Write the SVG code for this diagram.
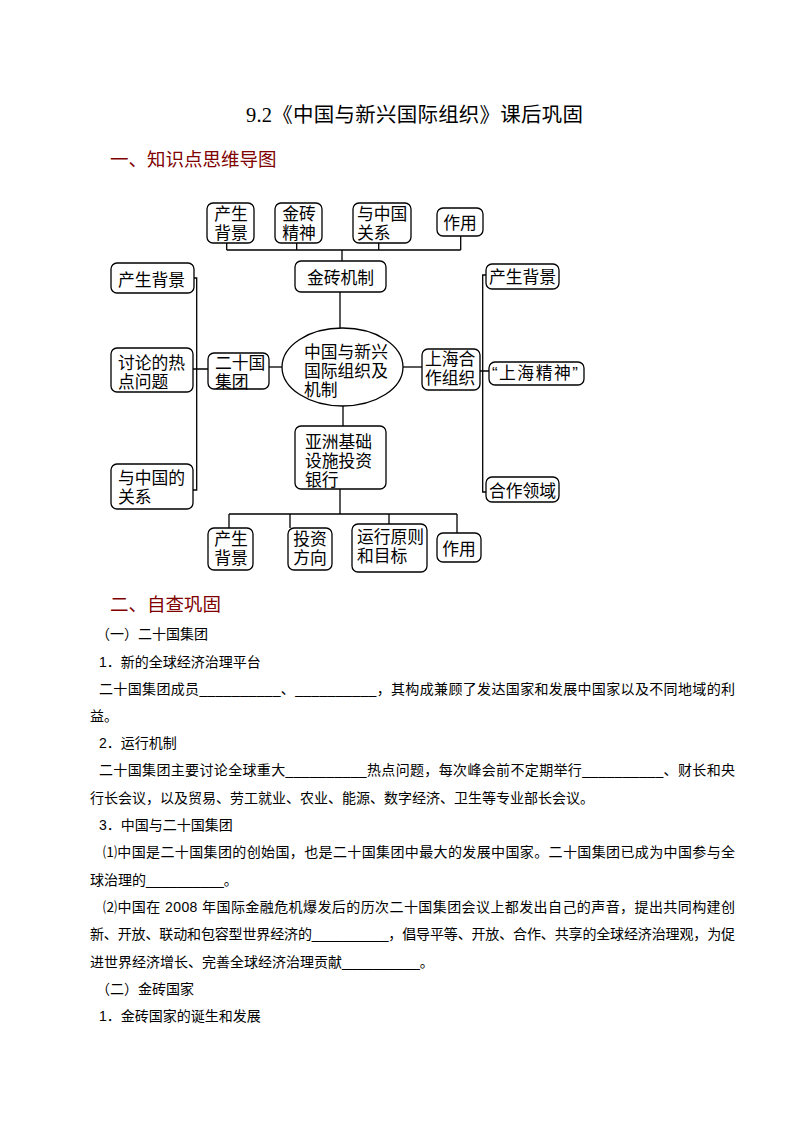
<svg xmlns="http://www.w3.org/2000/svg" width="794" height="1123" viewBox="0 0 794 1123">
<style>
.bx{fill:#fff;stroke:#000;stroke-width:1.3}
.nt{font-family:"Liberation Sans","Noto Sans CJK SC",sans-serif;font-size:16.8px;fill:#000}
.mid{text-anchor:middle}
.ln{stroke:#000;stroke-width:1.3;fill:none}
.bd{font-family:"Liberation Sans","Noto Sans CJK SC",sans-serif;font-size:14px;fill:#000}
.hd{font-family:"Noto Sans CJK SC",sans-serif;font-size:18.5px;fill:#800000}
</style>
<rect width="794" height="1123" fill="#fff"/>
<text x="246" y="122" font-family="'Liberation Serif','Noto Sans CJK SC',serif" font-size="20.5" textLength="337" lengthAdjust="spacing">9.2《中国与新兴国际组织》课后巩固</text>
<text class="hd" x="110" y="166">一、知识点思维导图</text>

<g id="connectors" class="ln">
<path d="M226.7 243V250M296.7 243V250M378.7 243V250M460.7 236V250M226.7 250H460.7M342 250V261"/>
<path d="M340 292V328"/>
<path d="M194 278H196.7V490H193M193 369H208"/>
<path d="M269 367H282"/>
<path d="M403 367H422"/>
<path d="M486 275H482.7V492H486M480 371H489"/>
<path d="M343 406V426"/>
<path d="M340 489V514M229 514H457M229 514V528M290 514V528M389 514V524M457 514V533"/>
</g>

<g id="n_brics_bg"><rect class="bx" x="207" y="203" width="47" height="40" rx="6"/><text class="nt mid"><tspan x="231" y="219.5">产生</tspan><tspan x="231" y="238.5">背景</tspan></text></g>
<g id="n_brics_spirit"><rect class="bx" x="275" y="203" width="47" height="40" rx="6"/><text class="nt mid"><tspan x="299" y="219.5">金砖</tspan><tspan x="299" y="238.5">精神</tspan></text></g>
<g id="n_brics_rel"><rect class="bx" x="353" y="203" width="58" height="40" rx="6"/><text class="nt"><tspan x="357" y="219.5">与中国</tspan><tspan x="357" y="238.5">关系</tspan></text></g>
<g id="n_brics_role"><rect class="bx" x="437" y="208" width="46" height="28" rx="6"/><text class="nt mid" x="460" y="229">作用</text></g>
<g id="n_brics"><rect class="bx" x="295" y="261" width="91" height="31" rx="6"/><text class="nt mid" x="340.5" y="284">金砖机制</text></g>

<g id="n_center"><ellipse class="bx" cx="342.5" cy="367" rx="60.5" ry="39"/><text class="nt"><tspan x="304" y="357.5">中国与新兴</tspan><tspan x="304" y="376.5">国际组织及</tspan><tspan x="304" y="395.5">机制</tspan></text></g>

<g id="n_g20"><rect class="bx" x="208" y="353" width="61" height="36" rx="6"/><text class="nt"><tspan x="215" y="368.5">二十国</tspan><tspan x="215" y="387.5">集团</tspan></text></g>
<g id="n_g20_bg"><rect class="bx" x="111" y="263" width="83" height="30" rx="6"/><text class="nt" x="118" y="286">产生背景</text></g>
<g id="n_g20_topics"><rect class="bx" x="111" y="348" width="82" height="44" rx="6"/><text class="nt"><tspan x="118" y="368.5">讨论的热</tspan><tspan x="118" y="387.5">点问题</tspan></text></g>
<g id="n_g20_rel"><rect class="bx" x="111" y="464" width="82" height="45" rx="6"/><text class="nt"><tspan x="118" y="483.5">与中国的</tspan><tspan x="118" y="502.5">关系</tspan></text></g>

<g id="n_sco"><rect class="bx" x="422" y="349" width="58" height="41" rx="6"/><text class="nt"><tspan x="425" y="364.5">上海合</tspan><tspan x="425" y="383.5">作组织</tspan></text></g>
<g id="n_sco_bg"><rect class="bx" x="486" y="264" width="73" height="25" rx="6"/><text class="nt" x="489" y="283">产生背景</text></g>
<g id="n_sco_spirit"><rect class="bx" x="489" y="362" width="95" height="23" rx="6"/><text class="nt" x="492" y="379" letter-spacing="1.5">“上海精神”</text></g>
<g id="n_sco_field"><rect class="bx" x="486" y="477" width="73" height="25" rx="6"/><text class="nt" x="489" y="497">合作领域</text></g>

<g id="n_aiib"><rect class="bx" x="295" y="426" width="91" height="63" rx="6"/><text class="nt"><tspan x="305" y="448">亚洲基础</tspan><tspan x="305" y="467">设施投资</tspan><tspan x="305" y="486">银行</tspan></text></g>
<g id="n_aiib_bg"><rect class="bx" x="208" y="528" width="45" height="42" rx="6"/><text class="nt mid"><tspan x="231" y="544.5">产生</tspan><tspan x="231" y="563.5">背景</tspan></text></g>
<g id="n_aiib_dir"><rect class="bx" x="288" y="528" width="44" height="42" rx="6"/><text class="nt mid"><tspan x="310" y="544.5">投资</tspan><tspan x="310" y="563.5">方向</tspan></text></g>
<g id="n_aiib_rule"><rect class="bx" x="352" y="524" width="75" height="48" rx="6"/><text class="nt"><tspan x="357" y="542.5">运行原则</tspan><tspan x="357" y="561.5">和目标</tspan></text></g>
<g id="n_aiib_role"><rect class="bx" x="437" y="533" width="44" height="29" rx="6"/><text class="nt mid" x="459" y="555">作用</text></g>

<g id="section2">
<text class="hd" x="110" y="611">二、自查巩固</text>
<text class="bd" x="96" y="639">（一）二十国集团</text>
<text class="bd" x="99" y="667">1．新的全球经济治理平台</text>
<text class="bd" x="99" y="694" textLength="636" lengthAdjust="spacing">二十国集团成员__________、__________，其构成兼顾了发达国家和发展中国家以及不同地域的利</text>
<text class="bd" x="90" y="721">益。</text>
<text class="bd" x="99" y="748">2．运行机制</text>
<text class="bd" x="99" y="775" textLength="636" lengthAdjust="spacing">二十国集团主要讨论全球重大__________热点问题，每次峰会前不定期举行__________、财长和央</text>
<text class="bd" x="90" y="803">行长会议，以及贸易、劳工就业、农业、能源、数字经济、卫生等专业部长会议。</text>
<text class="bd" x="99" y="830">3．中国与二十国集团</text>
<text class="bd" x="103" y="857" textLength="632" lengthAdjust="spacing">⑴中国是二十国集团的创始国，也是二十国集团中最大的发展中国家。二十国集团已成为中国参与全</text>
<text class="bd" x="90" y="885">球治理的__________。</text>
<text class="bd" x="103" y="912" textLength="632" lengthAdjust="spacing">⑵中国在 2008 年国际金融危机爆发后的历次二十国集团会议上都发出自己的声音，提出共同构建创</text>
<text class="bd" x="90" y="939" textLength="645" lengthAdjust="spacing">新、开放、联动和包容型世界经济的__________，倡导平等、开放、合作、共享的全球经济治理观，为促</text>
<text class="bd" x="90" y="967">进世界经济增长、完善全球经济治理贡献__________。</text>
<text class="bd" x="96" y="994">（二）金砖国家</text>
<text class="bd" x="99" y="1021">1．金砖国家的诞生和发展</text>
</g>
</svg>
